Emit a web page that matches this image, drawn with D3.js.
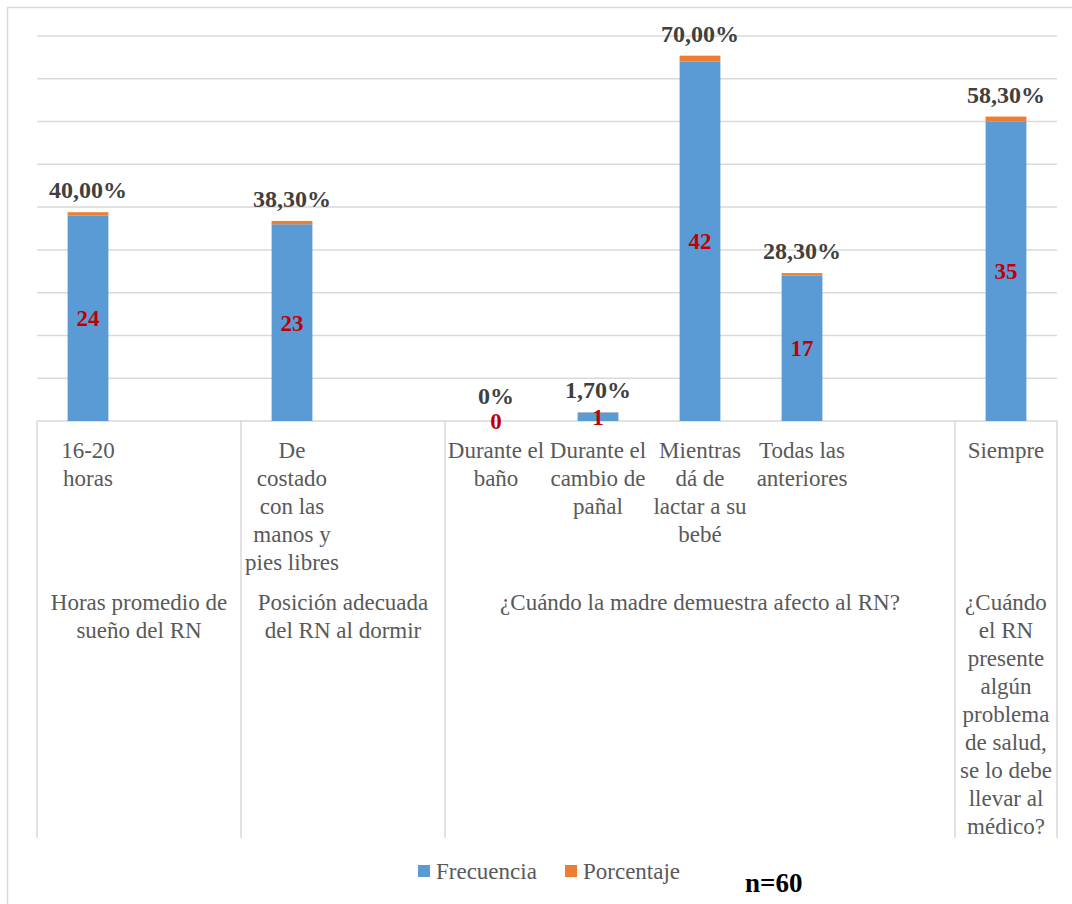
<!DOCTYPE html>
<html>
<head>
<meta charset="utf-8">
<script src="https://cdn.jsdelivr.net/npm/d3@7"></script>
<style>
  body { margin: 0; background: #fff; }
  text { font-family: "Liberation Serif", "Times New Roman", serif; }
</style>
</head>
<body>
<div id="chart"></div>
<script>
// one entry per slot on the x axis; empty slots have no bar
const categories = [
    ["16-20", "horas"],
    [],
    ["De", "costado", "con las", "manos y", "pies libres"],
    [],
    ["Durante el", "baño"],
    ["Durante el", "cambio de", "pañal"],
    ["Mientras", "dá de", "lactar a su", "bebé"],
    ["Todas las", "anteriores"],
    [],
    ["Siempre"]
];
const frecuencia = [24, null, 23, null, 0, 1, 42, 17, null, 35];
const porcentaje = [0.4, null, 0.383, null, 0, 0.017, 0.7, 0.283, null, 0.583];
const pctLabels = ["40,00%", "", "38,30%", "", "0%", "1,70%", "70,00%", "28,30%", "", "58,30%"];

const groups = [
    ["Horas promedio de", "sueño del RN"],
    ["Posición adecuada", "del RN al dormir"],
    ["¿Cuándo la madre demuestra afecto al RN?"],
    ["¿Cuándo", "el RN", "presente", "algún", "problema", "de salud,", "se lo debe", "llevar al", "médico?"]
];
const groupSpans = [2, 2, 5, 1];

const seriesNames = ["Frecuencia", "Porcentaje"];
const colors = ["#5B9BD5", "#ED7D31"];

const width = 1072;
const height = 904;

const svg = d3.select("#chart").append("svg")
    .attr("width", width)
    .attr("height", height);

// chart area border
svg.append("rect")
    .attr("x", 7.5).attr("y", 7.5)
    .attr("width", 1080).attr("height", 920)
    .attr("fill", "none")
    .attr("stroke", "#d9d9d9")
    .attr("stroke-width", 1.5);

const x = d3.scaleBand()
    .domain(d3.range(categories.length))
    .range([37, 1057])
    .paddingInner(0.6)
    .paddingOuter(0.3);

const y = d3.scaleLinear()
    .domain([0, 45])
    .range([421, 36]);

// gridlines
svg.append("g")
    .selectAll("line")
    .data(y.ticks(9))
    .enter()
    .append("line")
    .attr("x1", 37).attr("x2", 1057)
    .attr("y1", d => y(d)).attr("y2", d => y(d))
    .attr("stroke", "#d9d9d9")
    .attr("stroke-width", 1.5);

// group separators
const step = x.step();
let acc = 0;
const bounds = [0];
groupSpans.forEach(s => { acc += s; bounds.push(acc); });
const slotX = i => 37 + i * step;

svg.append("g")
    .selectAll("line")
    .data(bounds)
    .enter()
    .append("line")
    .attr("x1", d => slotX(d)).attr("x2", d => slotX(d))
    .attr("y1", 421).attr("y2", 838)
    .attr("stroke", "#d9d9d9")
    .attr("stroke-width", 1.5);

// bars
const rows = categories.map((c, i) => ({ i, f: frecuencia[i], p: porcentaje[i], label: pctLabels[i] }))
    .filter(d => d.f !== null);

const bars = svg.append("g");
bars.selectAll("rect.f")
    .data(rows)
    .enter()
    .append("rect")
    .attr("class", "f")
    .attr("x", d => x(d.i))
    .attr("width", x.bandwidth())
    .attr("y", d => y(d.f))
    .attr("height", d => y(0) - y(d.f))
    .attr("fill", colors[0]);

bars.selectAll("rect.p")
    .data(rows)
    .enter()
    .append("rect")
    .attr("class", "p")
    .attr("x", d => x(d.i))
    .attr("width", x.bandwidth())
    .attr("y", d => y(d.f + d.p))
    .attr("height", d => y(d.f) - y(d.f + d.p))
    .attr("fill", colors[1]);

// labels above bars (the zero bar needs a little more room for its red label)
svg.append("g")
    .selectAll("text")
    .data(rows)
    .enter()
    .append("text")
    .attr("x", d => x(d.i) + x.bandwidth() / 2)
    .attr("y", d => y(d.f + d.p) - (d.f === 0 ? 17 : 14))
    .attr("text-anchor", "middle")
    .attr("font-size", 24)
    .attr("font-weight", "bold")
    .attr("fill", "#404040")
    .text(d => d.label);

// frequency labels inside bars
svg.append("g")
    .selectAll("text")
    .data(rows)
    .enter()
    .append("text")
    .attr("x", d => x(d.i) + x.bandwidth() / 2)
    .attr("y", d => (y(0) + y(d.f)) / 2)
    .attr("dy", "0.35em")
    .attr("text-anchor", "middle")
    .attr("font-size", 23)
    .attr("font-weight", "bold")
    .attr("fill", "#C00000")
    .text(d => d.f);

// category labels
const catG = svg.append("g")
    .selectAll("text")
    .data(categories.map((lines, i) => ({ lines, i })))
    .enter()
    .append("text")
    .attr("text-anchor", "middle")
    .attr("font-size", 23)
    .attr("fill", "#595959");

catG.selectAll("tspan")
    .data(d => d.lines.map((t, k) => ({ t, k, i: d.i })))
    .enter()
    .append("tspan")
    .attr("x", d => x(d.i) + x.bandwidth() / 2)
    .attr("y", d => 458 + d.k * 28)
    .text(d => d.t);

// group labels
const grpG = svg.append("g")
    .selectAll("text")
    .data(groups.map((lines, g) => ({ lines, g })))
    .enter()
    .append("text")
    .attr("text-anchor", "middle")
    .attr("font-size", 23)
    .attr("fill", "#595959");

grpG.selectAll("tspan")
    .data(d => d.lines.map((t, k) => ({ t, k, g: d.g })))
    .enter()
    .append("tspan")
    .attr("x", d => (slotX(bounds[d.g]) + slotX(bounds[d.g + 1])) / 2)
    .attr("y", d => 610 + d.k * 28)
    .text(d => d.t);

// legend
const legendX = [418, 565];
const legend = svg.append("g")
    .selectAll("g")
    .data(seriesNames)
    .enter()
    .append("g")
    .attr("transform", (d, i) => `translate(${legendX[i]},865)`);

legend.append("rect")
    .attr("width", 12).attr("height", 12)
    .attr("fill", (d, i) => colors[i]);

legend.append("text")
    .attr("x", 18).attr("y", 14)
    .attr("font-size", 23)
    .attr("fill", "#595959")
    .text(d => d);

svg.append("text")
    .attr("x", 745).attr("y", 892)
    .attr("font-size", 27)
    .attr("font-weight", "bold")
    .attr("fill", "#000")
    .text("n=60");
</script>
</body>
</html>
